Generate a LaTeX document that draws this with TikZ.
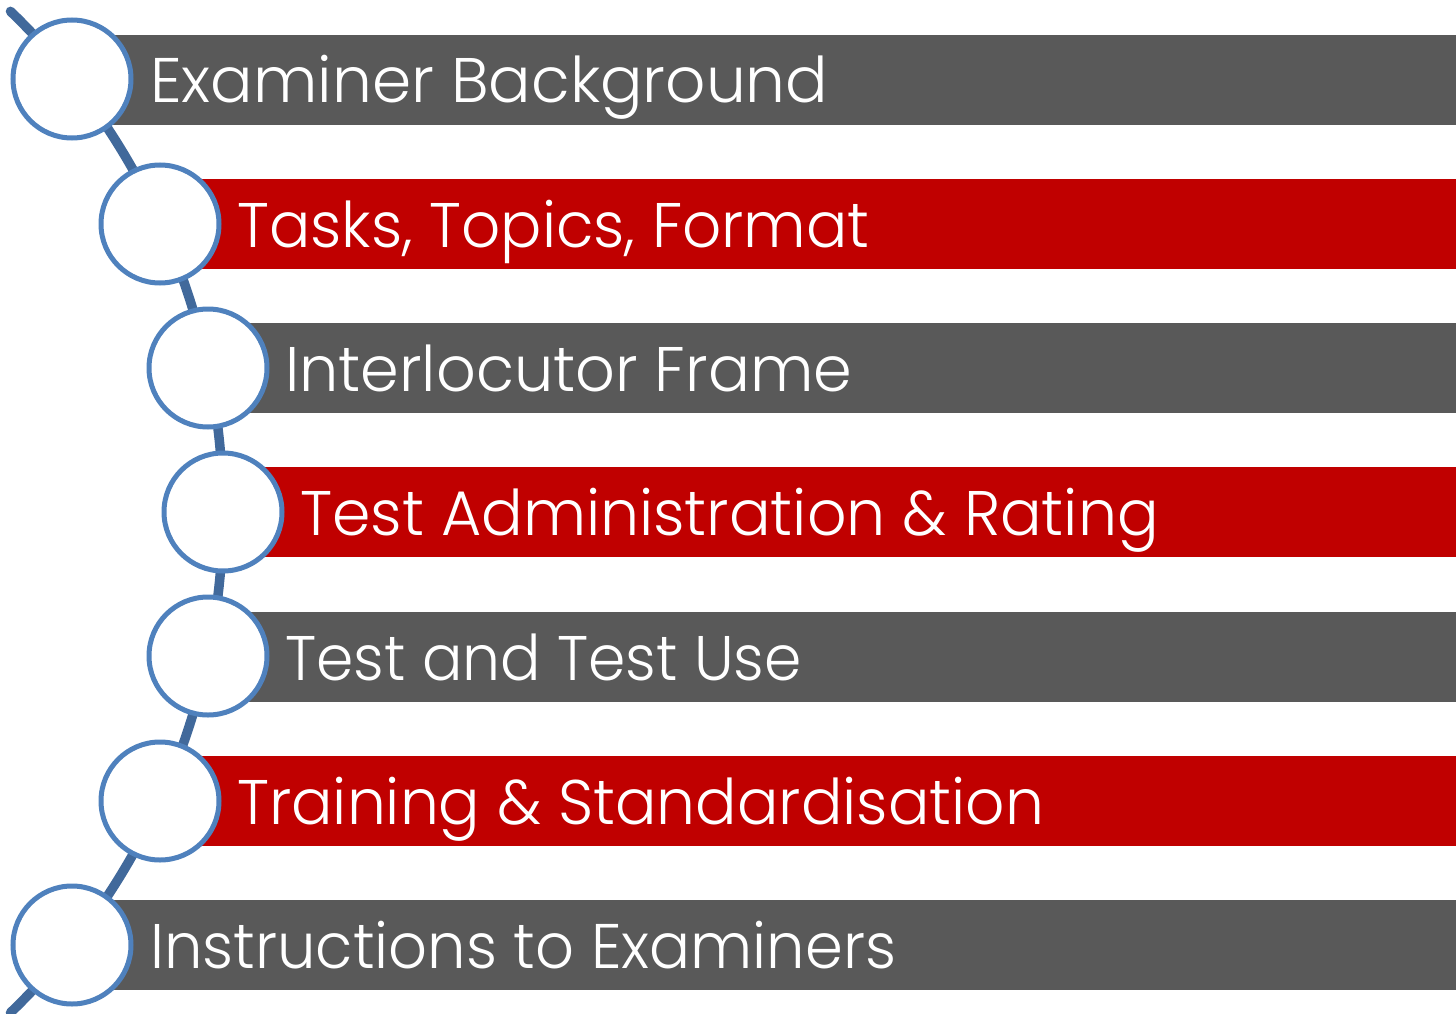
\documentclass[tikz,border=0pt]{standalone}
\usepackage{fontspec}
\usepackage{graphicx}
\IfFontExistsTF{Poppins Light}{\setmainfont{Poppins Light}}{\setmainfont{Poppins}}
\definecolor{bargray}{HTML}{595959}
\definecolor{barred}{HTML}{C00000}
\definecolor{ringblue}{HTML}{4F81BD}
\definecolor{arcblue}{HTML}{41699B}
\begin{document}
\begin{tikzpicture}[x=1pt,y=-1pt,
  ring/.style={circle,draw=ringblue,line width=5pt,fill=white,minimum size=118pt,inner sep=0pt},
  lbl/.style={anchor=base west,text=white,inner sep=0pt,font=\fontsize{63}{63}\selectfont}]
\useasboundingbox (0,0) rectangle (1456,1014);
% arc (spine)
\coordinate (ac) at (-473,512);
\draw[arcblue,line width=9.5pt,line cap=round] (ac) ++(46:696) arc[start angle=46,end angle=-46,radius=696];
% circles positions
\coordinate (c1) at (72,79);
\coordinate (c2) at (160,224);
\coordinate (c3) at (208,368);
\coordinate (c4) at (223,512);
\coordinate (c5) at (208,656);
\coordinate (c6) at (160,801);
\coordinate (c7) at (72,945);
% bars
\foreach \x/\y/\col in {72/80/bargray,160/224/barred,208/368/bargray,223/512/barred,208/657/bargray,160/801/barred,72/945/bargray}{
  \fill[\col] (\x,\y-45) rectangle (1456,\y+45);
}
% rings
\node[ring] (r1) at (c1) {};
\node[ring] (r2) at (c2) {};
\node[ring] (r3) at (c3) {};
\node[ring] (r4) at (c4) {};
\node[ring] (r5) at (c5) {};
\node[ring] (r6) at (c6) {};
\node[ring] (r7) at (c7) {};
% labels
\node[lbl] (t1) at (150,103) {\scalebox{1.0}[1]{Examiner Background}};
\node[lbl] (t2) at (237,247) {\scalebox{0.972}[1]{Tasks, Topics, Format}};
\node[lbl] (t3) at (285,391) {\scalebox{0.986}[1]{Interlocutor Frame}};
\node[lbl] (t4) at (300,535) {\scalebox{0.98}[1]{Test Administration \& Rating}};
\node[lbl] (t5) at (285,680) {\scalebox{0.952}[1]{Test and Test Use}};
\node[lbl] (t6) at (237,824) {\scalebox{0.976}[1]{Training \& Standardisation}};
\node[lbl] (t7) at (150,968) {\scalebox{0.965}[1]{Instructions to Examiners}};
\end{tikzpicture}
\end{document}
